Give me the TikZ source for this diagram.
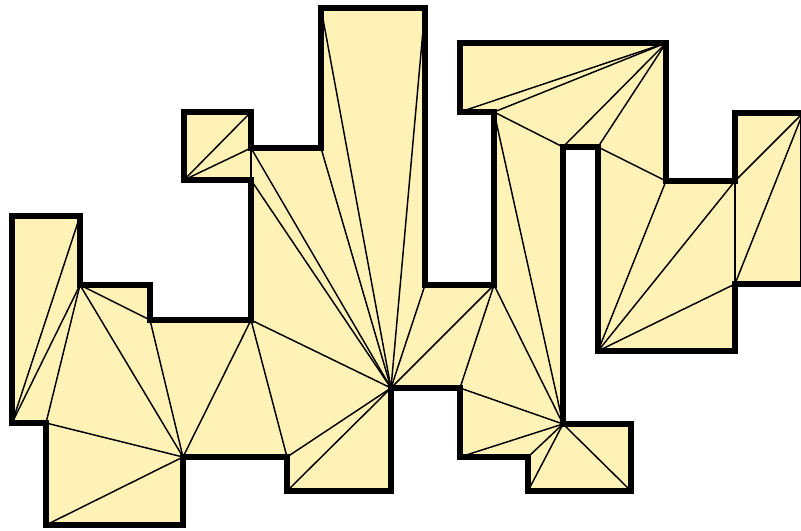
\documentclass[tikz,border=0pt]{standalone}
\begin{document}
\begin{tikzpicture}[x=0.75pt,y=-0.75pt,
  region/.style={fill=polyfill},
  diag/.style={draw=black,line width=1.1pt},
  rim/.style={draw=black,line width=4.6pt,line join=miter}]
\definecolor{polyfill}{RGB}{255,242,182}
\useasboundingbox (0,0) rectangle (801,531);
\clip (0,0) rectangle (801,531);
\foreach \n/\x/\y in {1/12/216,2/80/216,3/80/285,4/150/285,5/150/320,6/251/320,
  7/251/180,8/184/180,9/184/112,10/251/112,11/251/148,12/321/148,13/321/8,
  14/425/8,15/425/285,16/494/285,17/494/112,18/460/112,19/460/43,20/666/43,
  21/666/181,22/735/181,23/735/113,24/803/113,25/803/284,26/735/284,27/735/351,
  28/598/351,29/598/147,30/563/147,31/563/424,32/631/424,33/631/491,34/528/491,
  35/528/457,36/460/457,37/460/388,38/391/388,39/391/491,40/287/491,41/287/457,
  42/183/457,43/183/525,44/46/525,45/46/423,46/12/423}
  {\coordinate (p\n) at (\x,\y);}
\fill[region] (p1)--(p2)--(p3)--(p4)--(p5)--(p6)--(p7)--(p8)--(p9)--(p10)--(p11)--(p12)
  --(p13)--(p14)--(p15)--(p16)--(p17)--(p18)--(p19)--(p20)--(p21)--(p22)--(p23)--(p24)
  --(p25)--(p26)--(p27)--(p28)--(p29)--(p30)--(p31)--(p32)--(p33)--(p34)--(p35)--(p36)
  --(p37)--(p38)--(p39)--(p40)--(p41)--(p42)--(p43)--(p44)--(p45)--(p46)--cycle;
\foreach \a/\b in {2/46,3/46,3/45,3/5,3/42,5/42,45/42,44/42,6/42,6/41,6/38,41/38,
  40/38,7/38,11/38,12/38,13/38,14/38,15/38,16/38,16/37,16/31,17/31,37/31,36/31,
  35/31,34/31,33/31,8/10,8/11,11/7,18/20,17/20,17/30,30/20,29/20,29/21,28/21,
  28/22,28/26,22/24,26/24,22/26}
  {\draw[diag] (p\a) -- (p\b);}
\draw[rim] (p1)--(p2)--(p3)--(p4)--(p5)--(p6)--(p7)--(p8)--(p9)--(p10)--(p11)--(p12)
  --(p13)--(p14)--(p15)--(p16)--(p17)--(p18)--(p19)--(p20)--(p21)--(p22)--(p23)--(p24)
  --(p25)--(p26)--(p27)--(p28)--(p29)--(p30)--(p31)--(p32)--(p33)--(p34)--(p35)--(p36)
  --(p37)--(p38)--(p39)--(p40)--(p41)--(p42)--(p43)--(p44)--(p45)--(p46)--cycle;
\end{tikzpicture}
\end{document}
